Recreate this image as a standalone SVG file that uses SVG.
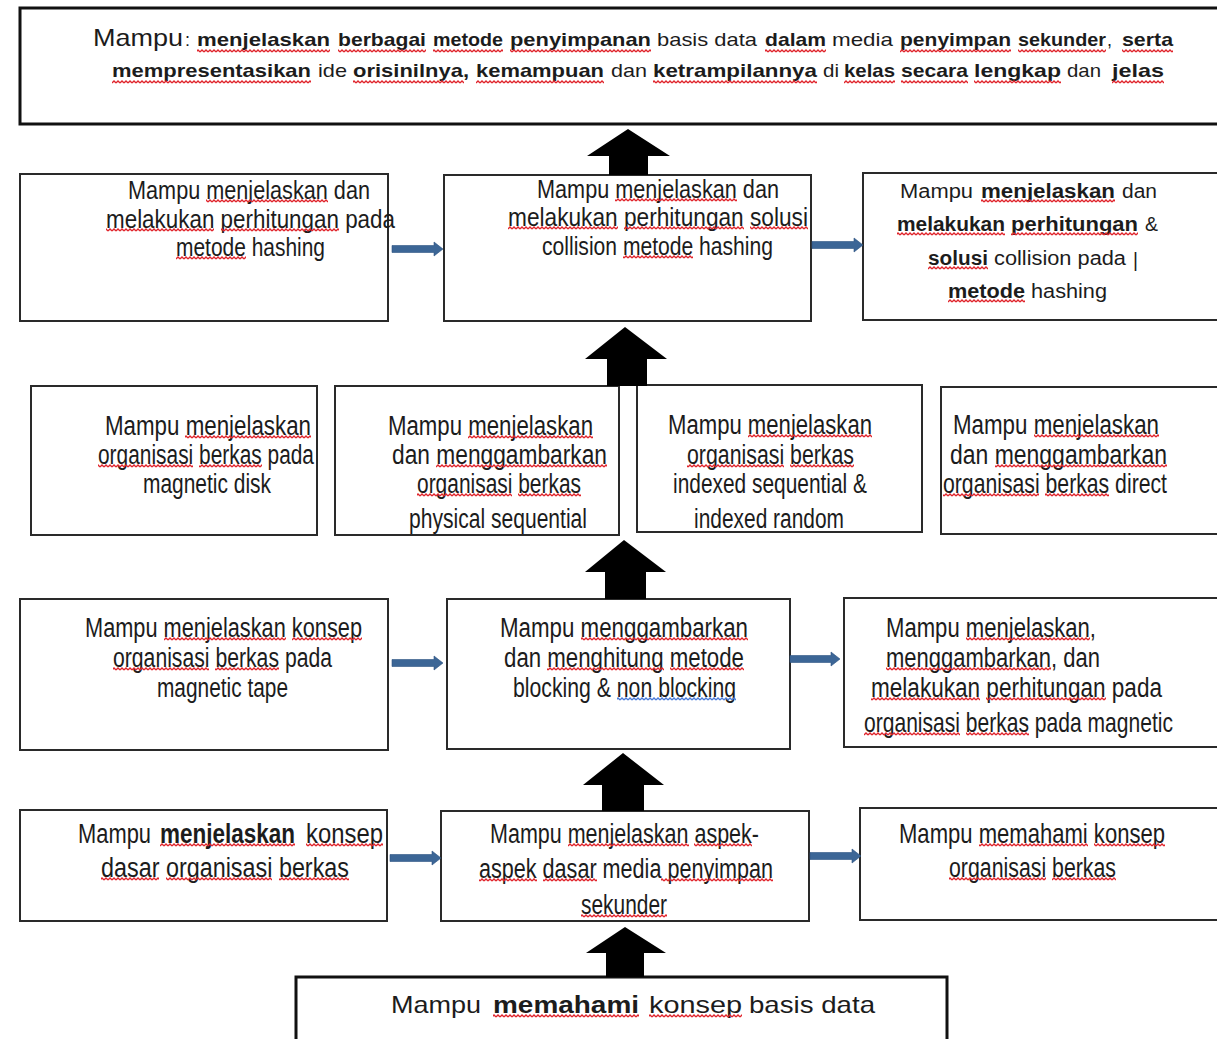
<svg xmlns="http://www.w3.org/2000/svg" width="1217" height="1039" viewBox="0 0 1217 1039">
<defs>
<pattern id="wr" patternUnits="userSpaceOnUse" width="4" height="4"><path d="M0 3 L2 1 L4 3" fill="none" stroke="#e0242b" stroke-width="1.3"/></pattern>
<pattern id="wb" patternUnits="userSpaceOnUse" width="4" height="4"><path d="M0 3 L2 1 L4 3" fill="none" stroke="#4a7bd9" stroke-width="1.3"/></pattern>
</defs>
<style>
.box{fill:#fff;stroke:#2a2a2a;stroke-width:2}
.boxh{fill:#fff;stroke:#111;stroke-width:3}
.c{font-family:"Liberation Sans",Arial,sans-serif;font-size:27px;fill:#1c1c1c}
.c26{font-size:26px}
.c24{font-size:24px}
.c23{font-size:23px}
.a{font-family:"Liberation Sans",Arial,sans-serif;font-size:20px;fill:#1c1c1c}
.t{font-family:"Liberation Sans",Arial,sans-serif;font-size:19px;fill:#1c1c1c}
.t24{font-size:24px}
.b{font-weight:bold}
.ul rect{fill:url(#wr)}
.ulb rect{fill:url(#wb)}
.blk{fill:#000}
.blue{fill:#3c6696;stroke:#2c5282;stroke-width:0.6}
</style>

<g id="node-top">
<rect class="boxh" x="20" y="8" width="1220" height="116"/>
<text class="t t24" x="93" y="46" textLength="90" lengthAdjust="spacingAndGlyphs">Mampu</text>
<text class="t" x="185" y="46" textLength="5" lengthAdjust="spacingAndGlyphs">:</text>
<text class="t b" x="197" y="46" textLength="133" lengthAdjust="spacingAndGlyphs">menjelaskan</text>
<text class="t b" x="338" y="46" textLength="88" lengthAdjust="spacingAndGlyphs">berbagai</text>
<text class="t b" x="433" y="46" textLength="70" lengthAdjust="spacingAndGlyphs">metode</text>
<text class="t b" x="510" y="46" textLength="141" lengthAdjust="spacingAndGlyphs">penyimpanan</text>
<text class="t" x="657" y="46" textLength="100" lengthAdjust="spacingAndGlyphs">basis data</text>
<text class="t b" x="765" y="46" textLength="61" lengthAdjust="spacingAndGlyphs">dalam</text>
<text class="t" x="832" y="46" textLength="61" lengthAdjust="spacingAndGlyphs">media</text>
<text class="t b" x="900" y="46" textLength="111" lengthAdjust="spacingAndGlyphs">penyimpan</text>
<text class="t b" x="1018" y="46" textLength="88" lengthAdjust="spacingAndGlyphs">sekunder</text>
<text class="t" x="1107" y="46" textLength="5" lengthAdjust="spacingAndGlyphs">,</text>
<text class="t b" x="1122" y="46" textLength="51" lengthAdjust="spacingAndGlyphs">serta</text>
<text class="t b" x="112" y="77" textLength="199" lengthAdjust="spacingAndGlyphs">mempresentasikan</text>
<text class="t" x="318" y="77" textLength="29" lengthAdjust="spacingAndGlyphs">ide</text>
<text class="t b" x="353" y="77" textLength="116" lengthAdjust="spacingAndGlyphs">orisinilnya,</text>
<text class="t b" x="476" y="77" textLength="128" lengthAdjust="spacingAndGlyphs">kemampuan</text>
<text class="t" x="611" y="77" textLength="36" lengthAdjust="spacingAndGlyphs">dan</text>
<text class="t b" x="653" y="77" textLength="164" lengthAdjust="spacingAndGlyphs">ketrampilannya</text>
<text class="t" x="823" y="77" textLength="16" lengthAdjust="spacingAndGlyphs">di</text>
<text class="t b" x="844" y="77" textLength="51" lengthAdjust="spacingAndGlyphs">kelas</text>
<text class="t b" x="901" y="77" textLength="67" lengthAdjust="spacingAndGlyphs">secara</text>
<text class="t b" x="974" y="77" textLength="87" lengthAdjust="spacingAndGlyphs">lengkap</text>
<text class="t" x="1067" y="77" textLength="34" lengthAdjust="spacingAndGlyphs">dan</text>
<text class="t b" x="1112" y="77" textLength="52" lengthAdjust="spacingAndGlyphs">jelas</text>
<g class="ul" transform="translate(0,49)"><rect x="197" y="0" width="133" height="4"/><rect x="338" y="0" width="88" height="4"/><rect x="433" y="0" width="70" height="4"/><rect x="510" y="0" width="141" height="4"/><rect x="765" y="0" width="61" height="4"/><rect x="900" y="0" width="111" height="4"/><rect x="1018" y="0" width="88" height="4"/><rect x="1122" y="0" width="51" height="4"/></g>
<g class="ul" transform="translate(0,80)"><rect x="112" y="0" width="199" height="4"/><rect x="353" y="0" width="111" height="4"/><rect x="476" y="0" width="128" height="4"/><rect x="653" y="0" width="164" height="4"/><rect x="844" y="0" width="51" height="4"/><rect x="901" y="0" width="67" height="4"/><rect x="974" y="0" width="87" height="4"/><rect x="1112" y="0" width="52" height="4"/></g>
</g>

<g id="node-hash-1">
<rect class="box" x="20" y="174" width="368" height="147"/>
<text class="c c26" x="128" y="199" textLength="242" lengthAdjust="spacingAndGlyphs">Mampu menjelaskan dan</text>
<text class="c c26" x="106" y="228" textLength="289" lengthAdjust="spacingAndGlyphs">melakukan perhitungan pada</text>
<text class="c c26" x="176" y="256" textLength="149" lengthAdjust="spacingAndGlyphs">metode hashing</text>
<g class="ul" transform="translate(0,199)"><rect x="206" y="0" width="122" height="4"/></g>
<g class="ul" transform="translate(0,228)"><rect x="106" y="0" width="108" height="4"/><rect x="221" y="0" width="118" height="4"/></g>
<g class="ul" transform="translate(0,256)"><rect x="176" y="0" width="70" height="4"/></g>
</g>

<g id="node-hash-2">
<rect class="box" x="444" y="175" width="367" height="146"/>
<text class="c c26" x="537" y="198" textLength="242" lengthAdjust="spacingAndGlyphs">Mampu menjelaskan dan</text>
<text class="c c26" x="508" y="226" textLength="300" lengthAdjust="spacingAndGlyphs">melakukan perhitungan solusi</text>
<text class="c c26" x="542" y="255" textLength="231" lengthAdjust="spacingAndGlyphs">collision metode hashing</text>
<g class="ul" transform="translate(0,198)"><rect x="615" y="0" width="122" height="4"/></g>
<g class="ul" transform="translate(0,226)"><rect x="508" y="0" width="110" height="4"/><rect x="624" y="0" width="120" height="4"/><rect x="750" y="0" width="58" height="4"/></g>
<g class="ul" transform="translate(0,255)"><rect x="623" y="0" width="70" height="4"/></g>
</g>

<g id="node-hash-3">
<rect class="box" x="863" y="173" width="370" height="147"/>
<text class="a" x="900" y="198" textLength="73" lengthAdjust="spacingAndGlyphs">Mampu</text>
<text class="a b" x="981" y="198" textLength="134" lengthAdjust="spacingAndGlyphs">menjelaskan</text>
<text class="a" x="1122" y="198" textLength="35" lengthAdjust="spacingAndGlyphs">dan</text>
<text class="a b" x="897" y="231" textLength="108" lengthAdjust="spacingAndGlyphs">melakukan</text>
<text class="a b" x="1011" y="231" textLength="127" lengthAdjust="spacingAndGlyphs">perhitungan</text>
<text class="a" x="1145" y="231" textLength="13" lengthAdjust="spacingAndGlyphs">&amp;</text>
<text class="a b" x="928" y="265" textLength="60" lengthAdjust="spacingAndGlyphs">solusi</text>
<text class="a" x="994" y="265" textLength="132" lengthAdjust="spacingAndGlyphs">collision pada</text>
<text class="a" x="1133" y="267" textLength="5" lengthAdjust="spacingAndGlyphs">|</text>
<text class="a b" x="948" y="298" textLength="77" lengthAdjust="spacingAndGlyphs">metode</text>
<text class="a" x="1031" y="298" textLength="76" lengthAdjust="spacingAndGlyphs">hashing</text>
<g class="ul" transform="translate(0,199)"><rect x="981" y="0" width="134" height="4"/></g>
<g class="ul" transform="translate(0,232)"><rect x="897" y="0" width="108" height="4"/><rect x="1011" y="0" width="127" height="4"/></g>
<g class="ul" transform="translate(0,266)"><rect x="928" y="0" width="60" height="4"/></g>
<g class="ul" transform="translate(0,299)"><rect x="948" y="0" width="77" height="4"/></g>
</g>

<g id="node-disk">
<rect class="box" x="31" y="386" width="286" height="149"/>
<text class="c" x="105" y="435" textLength="206" lengthAdjust="spacingAndGlyphs">Mampu menjelaskan</text>
<text class="c" x="98" y="464" textLength="216" lengthAdjust="spacingAndGlyphs">organisasi berkas pada</text>
<text class="c" x="143" y="493" textLength="128" lengthAdjust="spacingAndGlyphs">magnetic disk</text>
<g class="ul" transform="translate(0,435)"><rect x="185" y="0" width="126" height="4"/></g>
<g class="ul" transform="translate(0,464)"><rect x="98" y="0" width="95" height="4"/><rect x="199" y="0" width="63" height="4"/></g>
</g>

<g id="node-physical">
<rect class="box" x="335" y="386" width="284" height="149"/>
<text class="c" x="388" y="435" textLength="205" lengthAdjust="spacingAndGlyphs">Mampu menjelaskan</text>
<text class="c" x="392" y="464" textLength="215" lengthAdjust="spacingAndGlyphs">dan menggambarkan</text>
<text class="c" x="417" y="493" textLength="164" lengthAdjust="spacingAndGlyphs">organisasi berkas</text>
<text class="c" x="409" y="528" textLength="178" lengthAdjust="spacingAndGlyphs">physical sequential</text>
<g class="ul" transform="translate(0,435)"><rect x="468" y="0" width="125" height="4"/></g>
<g class="ul" transform="translate(0,464)"><rect x="436" y="0" width="171" height="4"/></g>
<g class="ul" transform="translate(0,493)"><rect x="417" y="0" width="95" height="4"/><rect x="518" y="0" width="63" height="4"/></g>
</g>

<g id="node-indexed">
<rect class="box" x="637" y="385" width="285" height="147"/>
<text class="c" x="668" y="434" textLength="204" lengthAdjust="spacingAndGlyphs">Mampu menjelaskan</text>
<text class="c" x="687" y="464" textLength="167" lengthAdjust="spacingAndGlyphs">organisasi berkas</text>
<text class="c" x="673" y="493" textLength="194" lengthAdjust="spacingAndGlyphs">indexed sequential &amp;</text>
<text class="c" x="694" y="528" textLength="150" lengthAdjust="spacingAndGlyphs">indexed random</text>
<g class="ul" transform="translate(0,434)"><rect x="748" y="0" width="124" height="4"/></g>
<g class="ul" transform="translate(0,464)"><rect x="687" y="0" width="97" height="4"/><rect x="790" y="0" width="64" height="4"/></g>
</g>

<g id="node-direct">
<rect class="box" x="941" y="387" width="290" height="147"/>
<text class="c" x="953" y="434" textLength="206" lengthAdjust="spacingAndGlyphs">Mampu menjelaskan</text>
<text class="c" x="950" y="464" textLength="217" lengthAdjust="spacingAndGlyphs">dan menggambarkan</text>
<text class="c c24" transform="matrix(1 0 0 1.125 0 -61.625)" x="943" y="493" textLength="224" lengthAdjust="spacingAndGlyphs">organisasi berkas direct</text>
<g class="ul" transform="translate(0,493)"><rect x="943" y="0" width="96" height="4"/><rect x="1045" y="0" width="64" height="4"/></g>
<g class="ul" transform="translate(0,434)"><rect x="1034" y="0" width="125" height="4"/></g>
<g class="ul" transform="translate(0,464)"><rect x="995" y="0" width="172" height="4"/></g>
</g>

<g id="node-tape">
<rect class="box" x="20" y="599" width="368" height="151"/>
<text class="c" x="85" y="637" textLength="277" lengthAdjust="spacingAndGlyphs">Mampu menjelaskan konsep</text>
<text class="c" x="113" y="667" textLength="219" lengthAdjust="spacingAndGlyphs">organisasi berkas pada</text>
<text class="c" x="157" y="697" textLength="131" lengthAdjust="spacingAndGlyphs">magnetic tape</text>
<g class="ul" transform="translate(0,637)"><rect x="164" y="0" width="122" height="4"/><rect x="292" y="0" width="70" height="4"/></g>
<g class="ul" transform="translate(0,667)"><rect x="113" y="0" width="96" height="4"/><rect x="215" y="0" width="64" height="4"/></g>
</g>

<g id="node-blocking">
<rect class="box" x="447" y="599" width="343" height="150"/>
<text class="c" x="500" y="637" textLength="248" lengthAdjust="spacingAndGlyphs">Mampu menggambarkan</text>
<text class="c" x="504" y="667" textLength="240" lengthAdjust="spacingAndGlyphs">dan menghitung metode</text>
<text class="c" x="513" y="697" textLength="223" lengthAdjust="spacingAndGlyphs">blocking &amp; non blocking</text>
<g class="ul" transform="translate(0,637)"><rect x="581" y="0" width="167" height="4"/></g>
<g class="ul" transform="translate(0,667)"><rect x="547" y="0" width="117" height="4"/><rect x="670" y="0" width="74" height="4"/></g>
<g class="ulb" transform="translate(0,697)"><rect x="617" y="0" width="119" height="4"/></g>
</g>

<g id="node-magnetic">
<rect class="box" x="844" y="598" width="390" height="149"/>
<text class="c" x="886" y="637" textLength="210" lengthAdjust="spacingAndGlyphs">Mampu menjelaskan,</text>
<text class="c" x="886" y="667" textLength="214" lengthAdjust="spacingAndGlyphs">menggambarkan, dan</text>
<text class="c" x="871" y="697" textLength="291" lengthAdjust="spacingAndGlyphs">melakukan perhitungan pada</text>
<text class="c c23" transform="matrix(1 0 0 1.174 0 -127.4)" x="864" y="732" textLength="309" lengthAdjust="spacingAndGlyphs">organisasi berkas pada magnetic</text>
<g class="ul" transform="translate(0,637)"><rect x="966" y="0" width="124" height="4"/></g>
<g class="ul" transform="translate(0,667)"><rect x="886" y="0" width="165" height="4"/></g>
<g class="ul" transform="translate(0,697)"><rect x="871" y="0" width="109" height="4"/><rect x="986" y="0" width="120" height="4"/></g>
<g class="ul" transform="translate(0,732)"><rect x="864" y="0" width="96" height="4"/><rect x="966" y="0" width="63" height="4"/></g>
</g>

<g id="node-dasar">
<rect class="box" x="20" y="810" width="367" height="111"/>
<text class="c" x="78" y="843" textLength="73" lengthAdjust="spacingAndGlyphs">Mampu</text>
<text class="c c24 b" transform="matrix(1 0 0 1.125 0 -105.375)" x="160" y="843" textLength="135" lengthAdjust="spacingAndGlyphs">menjelaskan</text>
<text class="c" x="306" y="843" textLength="77" lengthAdjust="spacingAndGlyphs">konsep</text>
<text class="c" x="101" y="877" textLength="248" lengthAdjust="spacingAndGlyphs">dasar organisasi berkas</text>
<g class="ul" transform="translate(0,843)"><rect x="160" y="0" width="135" height="4"/><rect x="306" y="0" width="77" height="4"/></g>
<g class="ul" transform="translate(0,877)"><rect x="101" y="0" width="58" height="4"/><rect x="166" y="0" width="106" height="4"/><rect x="279" y="0" width="70" height="4"/></g>
</g>

<g id="node-media">
<rect class="box" x="441" y="811" width="368" height="110"/>
<text class="c" x="490" y="843" textLength="269" lengthAdjust="spacingAndGlyphs">Mampu menjelaskan aspek-</text>
<text class="c" x="479" y="878" textLength="294" lengthAdjust="spacingAndGlyphs">aspek dasar media penyimpan</text>
<text class="c" x="581" y="914" textLength="86" lengthAdjust="spacingAndGlyphs">sekunder</text>
<g class="ul" transform="translate(0,843)"><rect x="568" y="0" width="121" height="4"/><rect x="694" y="0" width="58" height="4"/></g>
<g class="ul" transform="translate(0,878)"><rect x="479" y="0" width="58" height="4"/><rect x="543" y="0" width="54" height="4"/><rect x="661" y="0" width="112" height="4"/></g>
<g class="ul" transform="translate(0,914)"><rect x="581" y="0" width="86" height="4"/></g>
</g>

<g id="node-organisasi">
<rect class="box" x="860" y="808" width="372" height="112"/>
<text class="c c24" transform="matrix(1 0 0 1.125 0 -105.375)" x="899" y="843" textLength="266" lengthAdjust="spacingAndGlyphs">Mampu memahami konsep</text>
<text class="c" x="949" y="877" textLength="167" lengthAdjust="spacingAndGlyphs">organisasi berkas</text>
<g class="ul" transform="translate(0,843)"><rect x="979" y="0" width="109" height="4"/><rect x="1094" y="0" width="71" height="4"/></g>
<g class="ul" transform="translate(0,877)"><rect x="949" y="0" width="97" height="4"/><rect x="1052" y="0" width="64" height="4"/></g>
</g>

<g id="node-basisdata">
<rect class="boxh" x="296" y="977" width="651" height="80"/>
<text class="c c24" x="391" y="1013" textLength="90" lengthAdjust="spacingAndGlyphs">Mampu</text>
<text class="c c24 b" x="493" y="1013" textLength="146" lengthAdjust="spacingAndGlyphs">memahami</text>
<text class="c c24" x="649" y="1013" textLength="93" lengthAdjust="spacingAndGlyphs">konsep</text>
<text class="c c24" x="749" y="1013" textLength="126" lengthAdjust="spacingAndGlyphs">basis data</text>
<g class="ul" transform="translate(0,1014)"><rect x="493" y="0" width="146" height="4"/><rect x="649" y="0" width="93" height="4"/></g>
</g>

<g id="connectors">
<polygon class="blk" points="628,129 670,156 648,156 648,175 609,175 609,156 587,156"/>
<polygon class="blk" points="625,327 667,359 647,359 647,386 607,386 607,359 585,359"/>
<polygon class="blk" points="624,540 666,572 646,572 646,599 605,599 605,572 585,572"/>
<polygon class="blk" points="623,753 664,785 644,785 644,811 602,811 602,785 583,785"/>
<polygon class="blk" points="625,927 666,953 644,953 644,977 606,977 606,953 586,953"/>
<polygon class="blue" points="392,245.5 434,245.5 434,242 443,249 434,256 434,252.5 392,252.5"/>
<polygon class="blue" points="812,241.5 854,241.5 854,238 863,245 854,252 854,248.5 812,248.5"/>
<polygon class="blue" points="392,659.5 434,659.5 434,656 443,663 434,670 434,666.5 392,666.5"/>
<polygon class="blue" points="790,655.5 831,655.5 831,652 840,659 831,666 831,662.5 790,662.5"/>
<polygon class="blue" points="390,854.5 432,854.5 432,851 441,858 432,865 432,861.5 390,861.5"/>
<polygon class="blue" points="810,852.5 852,852.5 852,849 861,856 852,863 852,859.5 810,859.5"/>
</g>
</svg>
